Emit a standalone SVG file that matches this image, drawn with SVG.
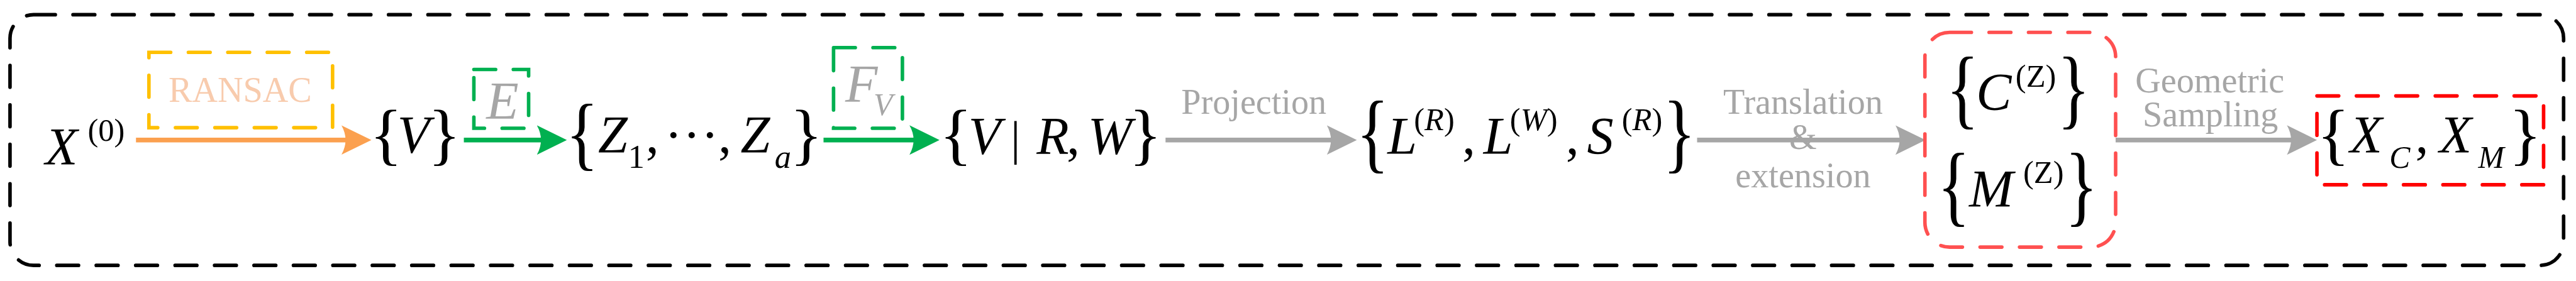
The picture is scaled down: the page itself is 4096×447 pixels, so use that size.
<svg xmlns="http://www.w3.org/2000/svg" width="4096" height="447" viewBox="0 0 4096 447">
<style>
.m{font-style:italic;font-size:90px;fill:#000}
.r{font-style:normal;font-size:90px;fill:#000}
.br{font-style:normal;font-size:116px;fill:#000}
.sup{font-size:54px}
.sub{font-size:56px}
.it{font-style:italic}
.lbl{font-size:60px;fill:#A6A6A6;text-anchor:middle}
.gray{fill:#A6A6A6}
.dash{fill:none;stroke-width:6;stroke-linecap:round;stroke-dasharray:37 30}
.ln{fill:none;stroke-width:8}
</style>
<defs>
<marker id="hO" markerUnits="userSpaceOnUse" markerWidth="52" markerHeight="52" refX="21" refY="25" orient="auto"><path d="M0,0 L51,25 L0,50 Q14,25 0,0 Z" fill="#FBA04F"/></marker>
<marker id="hG" markerUnits="userSpaceOnUse" markerWidth="52" markerHeight="52" refX="21" refY="25" orient="auto"><path d="M0,0 L51,25 L0,50 Q14,25 0,0 Z" fill="#00B050"/></marker>
<marker id="hA" markerUnits="userSpaceOnUse" markerWidth="52" markerHeight="52" refX="21" refY="25" orient="auto"><path d="M0,0 L51,25 L0,50 Q14,25 0,0 Z" fill="#A6A6A6"/></marker>
</defs>
<g transform="scale(0.936)" font-family="Liberation Serif, Times New Roman, serif">
<g id="frame"><rect x="17" y="25" width="4338" height="426" rx="40" class="dash" stroke="#000"/></g>

<g id="connectors">
<line x1="231" y1="238" x2="601" y2="238" class="ln" stroke="#FBA04F" marker-end="url(#hO)"/>
<line x1="788" y1="238" x2="933" y2="238" class="ln" stroke="#00B050" marker-end="url(#hG)"/>
<line x1="1399" y1="238" x2="1566" y2="238" class="ln" stroke="#00B050" marker-end="url(#hG)"/>
<line x1="1980" y1="238" x2="2275" y2="238" class="ln" stroke="#A6A6A6" marker-end="url(#hA)"/>
<line x1="2883" y1="238" x2="3241" y2="238" class="ln" stroke="#A6A6A6" marker-end="url(#hA)"/>
<line x1="3594" y1="238" x2="3906" y2="238" class="ln" stroke="#A6A6A6" marker-end="url(#hA)"/>
</g>

<g id="ransac">
<rect x="253" y="89" width="312" height="128" class="dash" stroke="#FFC000"/>
<text x="408" y="173" class="lbl" style="fill:#F8CBAD">RANSAC</text>
</g>

<g id="e-box">
<rect x="805" y="118" width="93" height="100" class="dash" stroke="#00B050"/>
<text x="826" y="202" class="m gray">E</text>
</g>

<g id="fv-box">
<rect x="1416" y="81" width="117" height="137" class="dash" stroke="#00B050"/>
<text x="1436" y="173" class="m gray">F</text>
<text x="1484" y="195" class="m gray" style="font-size:53px">V</text>
</g>

<g id="x0">
<text x="77" y="280" class="m">X</text>
<text x="149" y="239" class="r sup">(0)</text>
</g>

<g id="setV">
<text class="br" transform="translate(628,267)">{</text>
<text x="675" y="260" class="m">V</text>
<text class="br" transform="translate(727,267)">}</text>
</g>

<g id="setZ">
<text class="br" transform="translate(961,297) scale(1,1.18)" y="-21">{</text>
<text x="1016" y="260" class="m">Z</text>
<text x="1067" y="285" class="r sub">1</text>
<text x="1097" y="260" class="r">,</text>
<text x="1129 1160 1191" y="260" class="r">···</text>
<text x="1220" y="260" class="r">,</text>
<text x="1258" y="260" class="m">Z</text>
<text x="1316" y="285" class="m sub">a</text>
<text class="br" transform="translate(1342,267)">}</text>
</g>

<g id="setVRW">
<text class="br" transform="translate(1596,267)">{</text>
<text x="1645" y="262" class="m">V</text>
<text x="1717" y="263" class="r" style="font-size:82px">|</text>
<text x="1761" y="262" class="m">R</text>
<text x="1812" y="262" class="r">,</text>
<text x="1848" y="262" class="m">W</text>
<text class="br" transform="translate(1918,267)">}</text>
</g>

<g id="setLLS">
<text class="br" transform="translate(2304,302) scale(1,1.29)" y="-21">{</text>
<text x="2357" y="262" class="m">L</text>
<text x="2402" y="221" class="r sup">(<tspan class="it">R</tspan>)</text>
<text x="2484" y="262" class="r">,</text>
<text x="2520" y="262" class="m">L</text>
<text x="2565" y="221" class="r sup">(<tspan class="it">W</tspan>)</text>
<text x="2660" y="262" class="r">,</text>
<text x="2696" y="262" class="m">S</text>
<text x="2755" y="221" class="r sup">(<tspan class="it">R</tspan>)</text>
<text class="br" transform="translate(2825,302) scale(1,1.29)" y="-21">}</text>
</g>

<g id="setCM">
<rect x="3270" y="55" width="324" height="365" rx="42" class="dash" stroke="#FF5050"/>
<text class="br" transform="translate(3306,227) scale(1,1.29)" y="-21">{</text>
<text x="3357" y="187" class="m">C</text>
<text x="3424" y="147" class="r sup">(Z)</text>
<text class="br" transform="translate(3495,227) scale(1,1.29)" y="-21">}</text>
<text class="br" transform="translate(3291,393) scale(1,1.3)" y="-21">{</text>
<text x="3345" y="351" class="m">M</text>
<text x="3437" y="311" class="r sup">(Z)</text>
<text class="br" transform="translate(3508,393) scale(1,1.3)" y="-21">}</text>
</g>

<g id="setXCXM">
<rect x="3936" y="163" width="385" height="151" class="dash" stroke="#FF0000"/>
<text class="br" transform="translate(3936,267)">{</text>
<text x="3992" y="260" class="m">X</text>
<text x="4059" y="285" class="m" style="font-size:53px">C</text>
<text x="4103" y="260" class="r">,</text>
<text x="4144" y="260" class="m">X</text>
<text x="4210" y="285" class="m" style="font-size:53px">M</text>
<text class="br" transform="translate(4262,267)">}</text>
</g>

<g id="labels">
<text x="2130" y="193" class="lbl">Projection</text>
<text x="3063" y="193" class="lbl">Translation</text>
<text x="3063" y="253" class="lbl">&amp;</text>
<text x="3063" y="318" class="lbl">extension</text>
<text x="3754" y="157" class="lbl">Geometric</text>
<text x="3755" y="215" class="lbl">Sampling</text>
</g>
</g>
</svg>
